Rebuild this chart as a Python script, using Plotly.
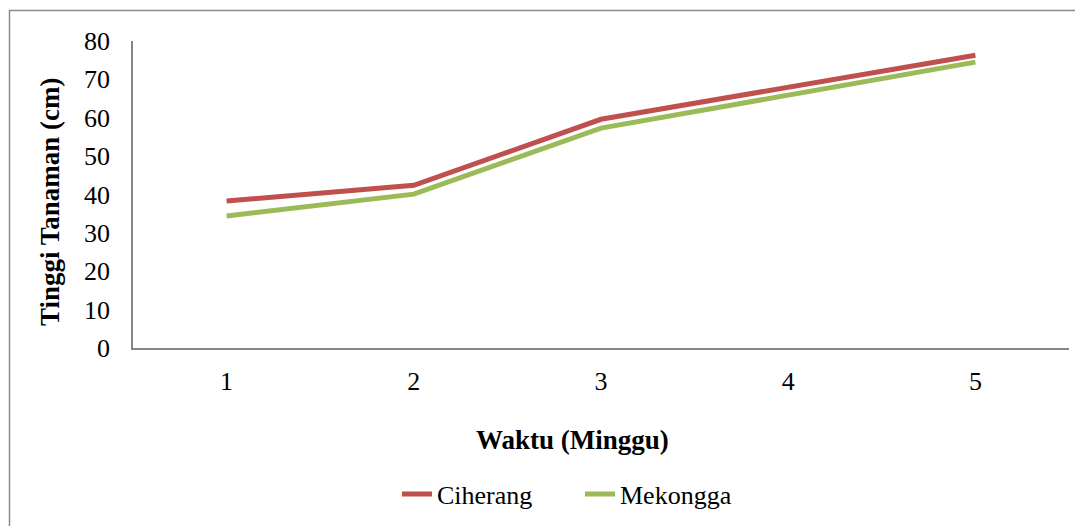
import plotly.graph_objects as go

weeks = ["1", "2", "3", "4", "5"]
ciherang = [38.3, 42.4, 59.6, 68.0, 76.3]
mekongga = [34.4, 40.1, 57.3, 65.8, 74.5]
y_ticks = [0, 10, 20, 30, 40, 50, 60, 70, 80]
x_title = "Waktu (Minggu)"
y_title = "Tinggi Tanaman (cm)"

OFF = 8  # page body margin
W, H = 1083 - OFF, 526 - OFF
L, R, T, B = 133 - OFF, 1069 - OFF, 41 - OFF, 348 - OFF

font = "Liberation Serif"
FS = 26

fig = go.Figure()
fig.add_trace(go.Scatter(x=weeks, y=ciherang, mode="lines", name="Ciherang",
                         line=dict(color="#C0504D", width=5)))
fig.add_trace(go.Scatter(x=weeks, y=mekongga, mode="lines", name="Mekongga",
                         line=dict(color="#9BBB59", width=5)))

pw = R - L
ph = B - T
def px(x):
    return (x - OFF - L) / pw
def py(y):
    return (B - (y - OFF)) / ph

fig.add_shape(type="rect", xref="paper", yref="paper",
              x0=px(9.5), x1=px(1100), y0=py(10.5), y1=py(545),
              line=dict(color="#8C8C8C", width=1.5), layer="below")

fig.add_annotation(text="<b>" + x_title + "</b>", xref="paper", yref="paper",
                   x=px(572), y=py(440), xanchor="center", yanchor="middle",
                   showarrow=False, font=dict(size=27, family=font, color="black"))
fig.add_annotation(text="<b>" + y_title + "</b>", xref="paper", yref="paper",
                   x=px(50), y=py(202), xanchor="center", yanchor="middle", textangle=-90,
                   showarrow=False, font=dict(size=27, family=font, color="black"))

fig.update_layout(
    width=W, height=H,
    margin=dict(l=L, r=W - R, t=T, b=H - B, autoexpand=False),
    paper_bgcolor="white", plot_bgcolor="white",
    font=dict(family=font, size=FS, color="black"),
    showlegend=True,
    legend=dict(orientation="h", x=px(397), xanchor="left", y=py(494), yanchor="middle",
                font=dict(size=FS, family=font), entrywidth=138, entrywidthmode="pixels",
                tracegroupgap=0),
    xaxis=dict(type="category", range=[-0.5, 4.5], showgrid=False, zeroline=False,
               showline=True, linecolor="#868686", linewidth=1.5, ticks="",
               tickfont=dict(size=FS, family=font), ticklabelstandoff=9),
    yaxis=dict(range=[0, 80], tickvals=y_ticks, showgrid=False, zeroline=False,
               showline=True, linecolor="#868686", linewidth=1.5, ticks="",
               tickfont=dict(size=FS, family=font), ticklabelstandoff=16),
)

fig.write_html("out.html")
